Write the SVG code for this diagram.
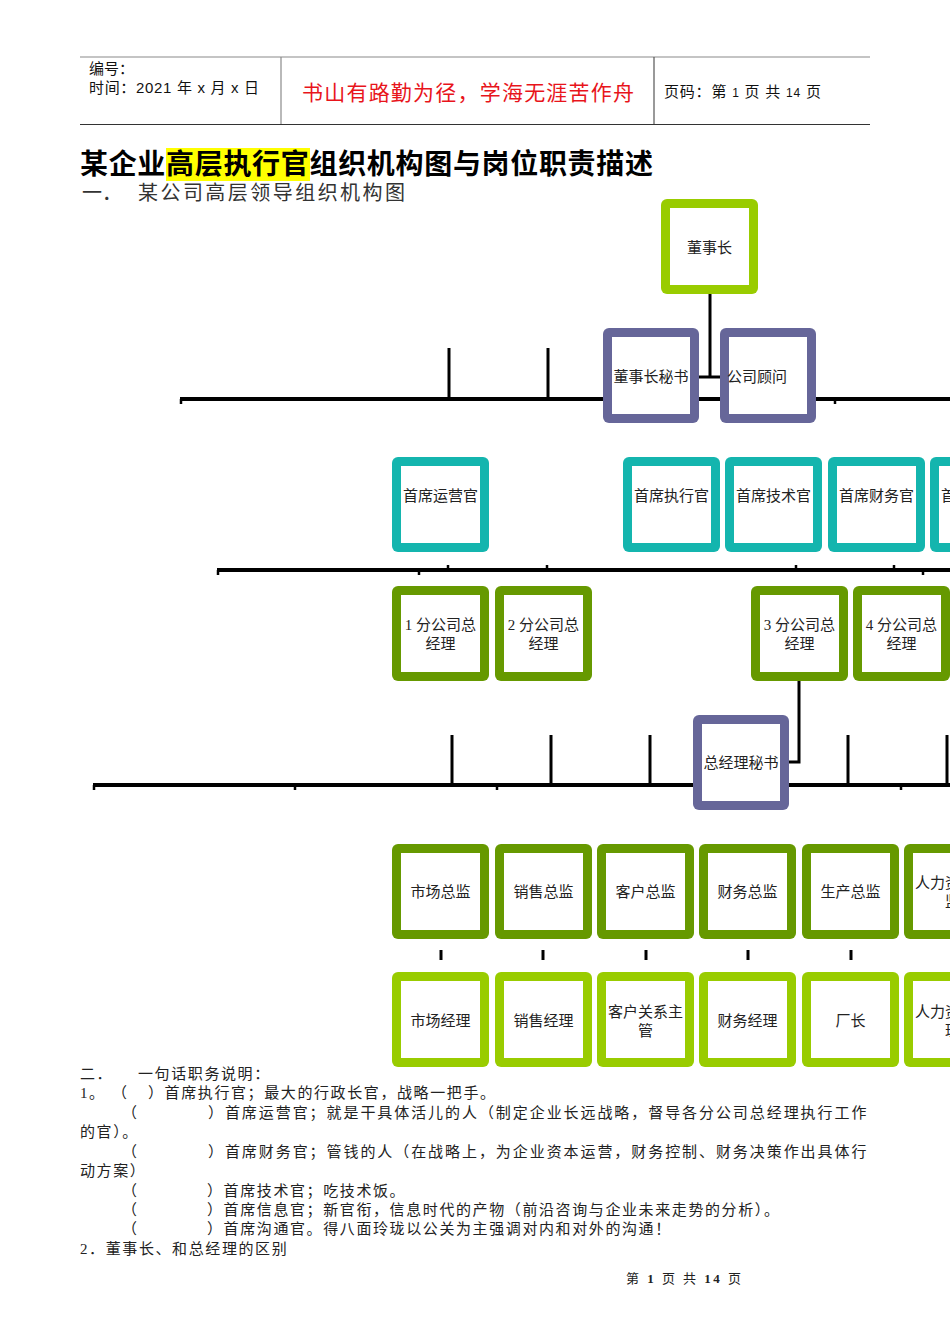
<svg xmlns="http://www.w3.org/2000/svg" width="950" height="1344" viewBox="0 0 950 1344">
  <style>
    .sans { font-family: "Liberation Sans", "Noto Sans CJK SC", sans-serif; }
    .serif { font-family: "Liberation Serif", "Noto Sans CJK SC", serif; }
    .lime { fill: #99CC00; }
    .olive { fill: #669900; }
    .teal { fill: #14B5AE; }
    .purple { fill: #666699; }
    .inner { fill: #ffffff; }
    .lbl { font-family: "Liberation Serif", "Noto Sans CJK SC", serif; font-size: 15px; fill: #222; text-anchor: middle; }
    .conn line, .conn polyline { stroke: #000; fill: none; }
    .bus { stroke-width: 4; }
    .tick { stroke-width: 2.5; }
    .drop { stroke-width: 3; }
    .body { font-family: "Liberation Serif", "Noto Sans CJK SC", serif; font-size: 15px; fill: #222; letter-spacing: 1.6px; }
  </style>

  <!-- page header -->
  <g id="header">
    <line x1="80" y1="57" x2="870" y2="57" stroke="#8a8a8a" stroke-width="1.2"/>
    <line x1="80" y1="124.5" x2="870" y2="124.5" stroke="#333" stroke-width="1.2"/>
    <line x1="281" y1="57" x2="281" y2="124" stroke="#8a8a8a" stroke-width="1.2"/>
    <line x1="654" y1="57" x2="654" y2="124" stroke="#555" stroke-width="1.2"/>
    <text class="sans" x="89" y="74" font-size="15" fill="#111">编号：</text>
    <text class="sans" x="89" y="93" font-size="15" fill="#111" textLength="170" lengthAdjust="spacing">时间：2021 年 x 月 x 日</text>
    <text class="sans" x="302" y="100" font-size="21" fill="#E8141B" textLength="332" lengthAdjust="spacing">书山有路勤为径，学海无涯苦作舟</text>
    <text class="sans" x="664" y="97" font-size="15" fill="#111" textLength="157" lengthAdjust="spacing">页码：第 <tspan font-size="12">1</tspan> 页  共 <tspan font-size="12">14</tspan> 页</text>
  </g>

  <!-- title -->
  <g id="title">
    <rect x="166" y="148" width="144" height="33" fill="#FFFF00"/>
    <text class="sans" x="80" y="174" font-size="28" font-weight="bold" fill="#000" textLength="573" lengthAdjust="spacing">某企业高层执行官组织机构图与岗位职责描述</text>
    <text class="serif" x="82" y="200" font-size="20" fill="#333">一．</text>
    <text class="serif" x="138" y="200" font-size="20" fill="#333" textLength="267" lengthAdjust="spacing">某公司高层领导组织机构图</text>
  </g>

  <!-- connectors -->
  <g id="connectors" class="conn">
    <!-- board level -->
    <line class="bus" x1="180" y1="399" x2="950" y2="399"/>
    <line class="tick" x1="181" y1="399" x2="181" y2="404"/>
    <line class="tick" x1="835" y1="399" x2="835" y2="404"/>
    <line class="drop" x1="449" y1="348" x2="449" y2="399"/>
    <line class="drop" x1="548" y1="348" x2="548" y2="399"/>
    <line class="drop" x1="710" y1="294" x2="710" y2="378"/>
    <line class="drop" x1="699" y1="377" x2="721" y2="377"/>
    <!-- executive level -->
    <line class="bus" x1="217" y1="570" x2="950" y2="570"/>
    <line class="tick" x1="218" y1="570" x2="218" y2="575"/>
    <line class="tick" x1="419" y1="570" x2="419" y2="575"/>
    <line class="tick" x1="923" y1="570" x2="923" y2="575"/>
    <line class="tick" x1="448" y1="565" x2="448" y2="570"/>
    <line class="tick" x1="547" y1="565" x2="547" y2="570"/>
    <line class="tick" x1="796" y1="565" x2="796" y2="570"/>
    <line class="tick" x1="894" y1="565" x2="894" y2="570"/>
    <!-- branch level -->
    <polyline class="drop" points="799,681 799,762 788,762"/>
    <line class="bus" x1="93" y1="785" x2="950" y2="785"/>
    <line class="tick" x1="94" y1="785" x2="94" y2="790"/>
    <line class="tick" x1="295" y1="785" x2="295" y2="790"/>
    <line class="tick" x1="497" y1="785" x2="497" y2="790"/>
    <line class="tick" x1="901" y1="785" x2="901" y2="790"/>
    <line class="drop" x1="452" y1="735" x2="452" y2="785"/>
    <line class="drop" x1="551" y1="735" x2="551" y2="785"/>
    <line class="drop" x1="650" y1="735" x2="650" y2="785"/>
    <line class="drop" x1="848" y1="735" x2="848" y2="785"/>
    <line class="drop" x1="947" y1="735" x2="947" y2="785"/>
    <!-- director to manager links -->
    <line class="drop" x1="441" y1="950" x2="441" y2="960"/>
    <line class="drop" x1="543" y1="950" x2="543" y2="960"/>
    <line class="drop" x1="646" y1="950" x2="646" y2="960"/>
    <line class="drop" x1="748" y1="950" x2="748" y2="960"/>
    <line class="drop" x1="851" y1="950" x2="851" y2="960"/>
  </g>

  <!-- nodes -->
  <g id="n-chairman">
    <rect class="lime" x="661" y="199" width="97" height="95" rx="6"/>
    <rect class="inner" x="670" y="208" width="79" height="77"/>
    <text class="lbl" x="709.5" y="253">董事长</text>
  </g>
  <g id="n-chair-secretary">
    <rect class="purple" x="603" y="328" width="96" height="95" rx="6"/>
    <rect class="inner" x="612" y="337" width="78" height="77"/>
    <text class="lbl" x="651" y="382">董事长秘书</text>
  </g>
  <g id="n-advisor">
    <rect class="purple" x="720" y="328" width="96" height="95" rx="6"/>
    <rect class="inner" x="729" y="337" width="78" height="77"/>
    <text class="lbl" x="757" y="382">公司顾问</text>
  </g>

  <g id="n-coo">
    <rect class="teal" x="392" y="457" width="97" height="95" rx="6"/>
    <rect class="inner" x="401" y="466" width="79" height="77"/>
    <text class="lbl" x="440.5" y="501">首席运营官</text>
  </g>
  <g id="n-ceo">
    <rect class="teal" x="623" y="457" width="97" height="95" rx="6"/>
    <rect class="inner" x="632" y="466" width="79" height="77"/>
    <text class="lbl" x="671.5" y="501">首席执行官</text>
  </g>
  <g id="n-cto">
    <rect class="teal" x="725" y="457" width="97" height="95" rx="6"/>
    <rect class="inner" x="734" y="466" width="79" height="77"/>
    <text class="lbl" x="773.5" y="501">首席技术官</text>
  </g>
  <g id="n-cfo">
    <rect class="teal" x="828" y="457" width="97" height="95" rx="6"/>
    <rect class="inner" x="837" y="466" width="79" height="77"/>
    <text class="lbl" x="876.5" y="501">首席财务官</text>
  </g>
  <g id="n-cio">
    <rect class="teal" x="930" y="457" width="97" height="95" rx="6"/>
    <rect class="inner" x="939" y="466" width="79" height="77"/>
    <text class="lbl" x="978.5" y="501">首席信息官</text>
  </g>

  <g id="n-branch1">
    <rect class="olive" x="392" y="586" width="97" height="95" rx="6"/>
    <rect class="inner" x="401" y="595" width="79" height="77"/>
    <text class="lbl" x="440.5" y="630">1 分公司总</text>
    <text class="lbl" x="440.5" y="649">经理</text>
  </g>
  <g id="n-branch2">
    <rect class="olive" x="495" y="586" width="97" height="95" rx="6"/>
    <rect class="inner" x="504" y="595" width="79" height="77"/>
    <text class="lbl" x="543.5" y="630">2 分公司总</text>
    <text class="lbl" x="543.5" y="649">经理</text>
  </g>
  <g id="n-branch3">
    <rect class="olive" x="751" y="586" width="97" height="95" rx="6"/>
    <rect class="inner" x="760" y="595" width="79" height="77"/>
    <text class="lbl" x="799.5" y="630">3 分公司总</text>
    <text class="lbl" x="799.5" y="649">经理</text>
  </g>
  <g id="n-branch4">
    <rect class="olive" x="853" y="586" width="97" height="95" rx="6"/>
    <rect class="inner" x="862" y="595" width="79" height="77"/>
    <text class="lbl" x="901.5" y="630">4 分公司总</text>
    <text class="lbl" x="901.5" y="649">经理</text>
  </g>

  <g id="n-gm-secretary">
    <rect class="purple" x="693" y="715" width="96" height="95" rx="6"/>
    <rect class="inner" x="702" y="724" width="78" height="77"/>
    <text class="lbl" x="741" y="768">总经理秘书</text>
  </g>

  <g id="n-marketing-director">
    <rect class="olive" x="392" y="844" width="97" height="95" rx="6"/>
    <rect class="inner" x="401" y="853" width="79" height="77"/>
    <text class="lbl" x="440.5" y="897">市场总监</text>
  </g>
  <g id="n-sales-director">
    <rect class="olive" x="495" y="844" width="97" height="95" rx="6"/>
    <rect class="inner" x="504" y="853" width="79" height="77"/>
    <text class="lbl" x="543.5" y="897">销售总监</text>
  </g>
  <g id="n-customer-director">
    <rect class="olive" x="597" y="844" width="97" height="95" rx="6"/>
    <rect class="inner" x="606" y="853" width="79" height="77"/>
    <text class="lbl" x="645.5" y="897">客户总监</text>
  </g>
  <g id="n-finance-director">
    <rect class="olive" x="699" y="844" width="97" height="95" rx="6"/>
    <rect class="inner" x="708" y="853" width="79" height="77"/>
    <text class="lbl" x="747.5" y="897">财务总监</text>
  </g>
  <g id="n-production-director">
    <rect class="olive" x="802" y="844" width="97" height="95" rx="6"/>
    <rect class="inner" x="811" y="853" width="79" height="77"/>
    <text class="lbl" x="850.5" y="897">生产总监</text>
  </g>
  <g id="n-hr-director">
    <rect class="olive" x="904" y="844" width="97" height="95" rx="6"/>
    <rect class="inner" x="913" y="853" width="79" height="77"/>
    <text class="lbl" x="952.5" y="888">人力资源总</text>
    <text class="lbl" x="952.5" y="907">监</text>
  </g>

  <g id="n-marketing-manager">
    <rect class="lime" x="392" y="972" width="97" height="95" rx="6"/>
    <rect class="inner" x="401" y="981" width="79" height="77"/>
    <text class="lbl" x="440.5" y="1026">市场经理</text>
  </g>
  <g id="n-sales-manager">
    <rect class="lime" x="495" y="972" width="97" height="95" rx="6"/>
    <rect class="inner" x="504" y="981" width="79" height="77"/>
    <text class="lbl" x="543.5" y="1026">销售经理</text>
  </g>
  <g id="n-customer-relations">
    <rect class="lime" x="597" y="972" width="97" height="95" rx="6"/>
    <rect class="inner" x="606" y="981" width="79" height="77"/>
    <text class="lbl" x="645.5" y="1017">客户关系主</text>
    <text class="lbl" x="645.5" y="1036">管</text>
  </g>
  <g id="n-finance-manager">
    <rect class="lime" x="699" y="972" width="97" height="95" rx="6"/>
    <rect class="inner" x="708" y="981" width="79" height="77"/>
    <text class="lbl" x="747.5" y="1026">财务经理</text>
  </g>
  <g id="n-plant-manager">
    <rect class="lime" x="802" y="972" width="97" height="95" rx="6"/>
    <rect class="inner" x="811" y="981" width="79" height="77"/>
    <text class="lbl" x="850.5" y="1026">厂长</text>
  </g>
  <g id="n-hr-manager">
    <rect class="lime" x="904" y="972" width="97" height="95" rx="6"/>
    <rect class="inner" x="913" y="981" width="79" height="77"/>
    <text class="lbl" x="952.5" y="1017">人力资源经</text>
    <text class="lbl" x="952.5" y="1036">理</text>
  </g>

  <!-- duty notes -->
  <g id="notes" class="body">
    <text x="80" y="1079">二．</text>
    <text x="138" y="1079">一句话职务说明：</text>
    <text x="80" y="1098">1。</text>
    <text x="112" y="1098">（</text>
    <text x="148" y="1098">）首席执行官；最大的行政长官，战略一把手。</text>
    <text x="122" y="1118">（</text>
    <text x="208" y="1118" textLength="660" lengthAdjust="spacing">）首席运营官；就是干具体活儿的人（制定企业长远战略，督导各分公司总经理执行工作</text>
    <text x="80" y="1137">的官）。</text>
    <text x="122" y="1157">（</text>
    <text x="208" y="1157" textLength="660" lengthAdjust="spacing">）首席财务官；管钱的人（在战略上，为企业资本运营，财务控制、财务决策作出具体行</text>
    <text x="80" y="1176">动方案）</text>
    <text x="122" y="1196">（</text>
    <text x="207" y="1196">）首席技术官；吃技术饭。</text>
    <text x="122" y="1215">（</text>
    <text x="207" y="1215">）首席信息官；新官衔，信息时代的产物（前沿咨询与企业未来走势的分析）。</text>
    <text x="122" y="1234">（</text>
    <text x="207" y="1234">）首席沟通官。得八面玲珑以公关为主强调对内和对外的沟通！</text>
    <text x="80" y="1254">2．董事长、和总经理的区别</text>
  </g>

  <!-- footer -->
  <text class="serif" x="626" y="1283" font-size="13" fill="#222" textLength="115" lengthAdjust="spacing">第 <tspan font-weight="bold">1</tspan> 页 共 <tspan font-weight="bold">14</tspan> 页</text>
</svg>
